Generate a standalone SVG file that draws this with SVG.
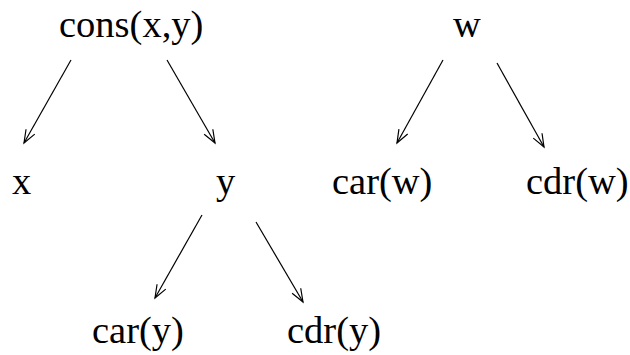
<svg xmlns="http://www.w3.org/2000/svg" width="630" height="355" viewBox="0 0 630 355">
<style>
text{font-family:"Liberation Serif","Times New Roman",serif;font-size:38.5px;fill:#000}
.c line{stroke:#000;stroke-width:1.2;marker-end:url(#ah)}
</style>
<defs>
<marker id="ah" markerUnits="userSpaceOnUse" viewBox="-14 -6 16 12" markerWidth="16" markerHeight="12" refX="0" refY="0" orient="auto">
<path d="M-13,-5 L0,0 L-13,5" fill="none" stroke="#000" stroke-width="1.2"/>
</marker>
</defs>
<rect width="630" height="355" fill="#fff"/>
<g id="n-cons"><text x="59" y="37">cons(x,y)</text></g>
<g id="n-x"><text x="12" y="194">x</text></g>
<g id="n-y"><text x="216" y="194">y</text></g>
<g id="n-w"><text x="453" y="37">w</text></g>
<g id="n-carw"><text x="332" y="194">car(w)</text></g>
<g id="n-cdrw"><text x="526" y="194">cdr(w)</text></g>
<g id="n-cary"><text x="92" y="343">car(y)</text></g>
<g id="n-cdry"><text x="287" y="343">cdr(y)</text></g>
<g class="c" id="connectors">
<line x1="71" y1="60" x2="24" y2="143"/>
<line x1="167" y1="60" x2="215" y2="143"/>
<line x1="443" y1="60" x2="397" y2="143"/>
<line x1="497" y1="63" x2="544" y2="147"/>
<line x1="202" y1="215" x2="155" y2="298"/>
<line x1="256" y1="222" x2="303" y2="302"/>
</g>
</svg>
